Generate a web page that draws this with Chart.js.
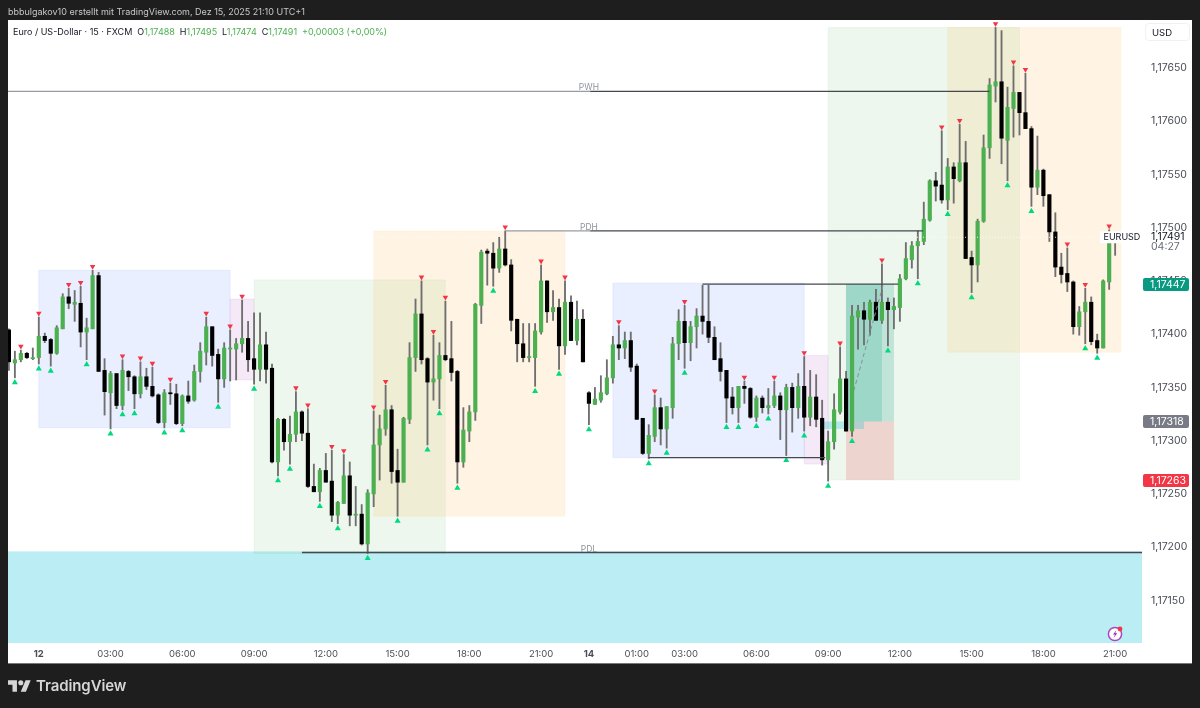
<!DOCTYPE html>
<html lang="de">
<head>
<meta charset="utf-8">
<title>EUR/USD 15</title>
<script src="https://cdn.jsdelivr.net/npm/chart.js@4"></script>
<style>
    html, body { margin: 0; padding: 0; width: 1200px; height: 708px; overflow: hidden; background: #1e1e1e; font-family: Inter, sans-serif; }
    #panel { position: absolute; left: 8px; top: 20px; width: 1184px; height: 643px; background: #fff; box-shadow: 0 1px 0 #777; }
    #chart { position: absolute; left: 0; top: 0; }
    #author { position: absolute; left: 8px; top: 5px; font-size: 9px; line-height: 14px; color: #c8c8c8; white-space: nowrap; }
    #legend { position: absolute; left: 13px; top: 25px; font-size: 9px; line-height: 14px; color: #131722; white-space: nowrap; }
    #legend b { font-weight: 400; color: #4caf50; }
    #legend span { margin-left: 5px; }
    #unit { position: absolute; left: 1145px; top: 23px; width: 45px; height: 18px; box-sizing: border-box; border: 1px solid #eef0f3; border-radius: 4px; font-size: 9.5px; line-height: 17px; color: #131722; padding-left: 6px; }
    #flash { position: absolute; left: 1106px; top: 625px; }
    #logo { position: absolute; left: 8px; top: 680px; }
    #brand { position: absolute; left: 36px; top: 676px; font-size: 15px; line-height: 20px; font-weight: 600; color: #d6d6d6; letter-spacing: -0.1px; }
</style>
</head>
<body>
<div id="panel"></div>
<canvas id="chart" width="1200" height="708"></canvas>
<div id="author">bbbulgakov10 erstellt mit TradingView.com, Dez 15, 2025 21:10 UTC+1</div>
<div id="legend">Euro / US-Dollar · 15 · FXCM<span>O<b>1,17488</b></span><span>H<b>1,17495</b></span><span>L<b>1,17474</b></span><span>C<b>1,17491</b></span><span><b>+0,00003 (+0,00%)</b></span></div>
<div id="unit">USD</div>
<svg id="flash" width="20" height="18" viewBox="0 0 20 18">
    <circle cx="9" cy="9" r="6.6" fill="#fff" stroke="#ab47bc" stroke-width="1.5"/>
    <path d="M10.5 5 L7 9.6 H9 L7.6 13 L11.2 8.3 H9.2 Z" fill="#9c27b0"/>
    <circle cx="14" cy="4" r="2.4" fill="#f23645"/>
</svg>
<svg id="logo" width="23" height="12" viewBox="0 4 36 18"><path fill="#d6d6d6" d="M14 22H7V11H0V4h14v18zM28 22h-8l7.5-18h8L28 22z"/><circle fill="#d6d6d6" cx="20" cy="8" r="4"/></svg>
<div id="brand">TradingView</div>

<script>
// ===== CANDLES (bar 0 is the leftmost one, prices) =====
const opens = [
    1.17404,1.17373,1.17376,1.17382,1.17377,1.17378,1.17398,1.17395,1.17382,1.17405,
    1.17435,1.17428,1.17429,1.17402,1.17405,1.17455,1.17366,1.17345,1.17363,1.17333,
    1.17365,1.17360,1.17344,1.17360,1.17351,1.17343,1.17317,1.17345,1.17344,1.17316,
    1.17342,1.17338,1.17365,1.17383,1.17407,1.17381,1.17358,1.17386,1.17386,1.17391,
    1.17396,1.17377,1.17367,1.17390,1.17368,1.17280,1.17320,1.17299,1.17306,1.17327,
    1.17307,1.17257,1.17252,1.17272,1.17262,1.17230,1.17241,1.17267,1.17230,1.17231,
    1.17203,1.17250,1.17296,1.17311,1.17329,1.17272,1.17261,1.17320,1.17378,1.17419,
    1.17377,1.17355,1.17358,1.17380,1.17377,1.17365,1.17280,1.17309,1.17327,1.17427,
    1.17478,1.17476,1.17462,1.17480,1.17465,1.17414,1.17391,1.17378,1.17378,1.17402,
    1.17450,1.17421,1.17425,1.17389,1.17430,1.17394,1.17414,1.17345,1.17334,1.17338,
    1.17344,1.17359,1.17390,1.17387,1.17394,1.17370,1.17321,1.17288,1.17304,1.17331,
    1.17311,1.17331,1.17391,1.17412,1.17392,1.17407,1.17417,1.17412,1.17397,1.17377,
    1.17366,1.17341,1.17331,1.17351,1.17349,1.17322,1.17340,1.17331,1.17333,1.17342,
    1.17329,1.17350,1.17331,1.17351,1.17322,1.17341,1.17321,1.17282,1.17299,1.17327,
    1.17358,1.17309,1.17416,1.17422,1.17414,1.17430,1.17413,1.17430,1.17423,1.17425,
    1.17452,1.17470,1.17483,1.17487,1.17507,1.17544,1.17540,1.17526,1.17557,1.17544,
    1.17561,1.17472,1.17465,1.17506,1.17575,1.17633,1.17637,1.17582,1.17612,1.17627,
    1.17608,1.17593,1.17538,1.17554,1.17531,1.17496,1.17463,1.17457,1.17449,1.17407,
    1.17421,1.17430,1.17394,1.17387,1.17449,1.17488
];
const closes = [
    1.17374,1.17376,1.17382,1.17378,1.17378,1.17398,1.17394,1.17382,1.17406,1.17435,
    1.17429,1.17430,1.17402,1.17406,1.17455,1.17365,1.17346,1.17363,1.17333,1.17366,
    1.17360,1.17344,1.17360,1.17351,1.17342,1.17317,1.17345,1.17344,1.17316,1.17342,
    1.17337,1.17365,1.17384,1.17407,1.17380,1.17358,1.17387,1.17387,1.17391,1.17396,
    1.17376,1.17367,1.17390,1.17367,1.17280,1.17320,1.17299,1.17306,1.17327,1.17307,
    1.17257,1.17252,1.17272,1.17261,1.17230,1.17242,1.17267,1.17230,1.17231,1.17203,
    1.17251,1.17296,1.17311,1.17329,1.17271,1.17261,1.17321,1.17378,1.17419,1.17376,
    1.17355,1.17358,1.17380,1.17376,1.17364,1.17280,1.17310,1.17327,1.17428,1.17477,
    1.17476,1.17462,1.17480,1.17465,1.17413,1.17391,1.17378,1.17379,1.17403,1.17450,
    1.17421,1.17425,1.17389,1.17430,1.17394,1.17414,1.17374,1.17335,1.17339,1.17345,
    1.17359,1.17390,1.17387,1.17394,1.17369,1.17320,1.17288,1.17305,1.17331,1.17311,
    1.17332,1.17391,1.17412,1.17392,1.17407,1.17417,1.17412,1.17397,1.17376,1.17365,
    1.17340,1.17331,1.17351,1.17349,1.17322,1.17340,1.17331,1.17333,1.17342,1.17329,
    1.17350,1.17331,1.17351,1.17322,1.17341,1.17320,1.17282,1.17299,1.17329,1.17358,
    1.17309,1.17417,1.17422,1.17414,1.17430,1.17413,1.17430,1.17423,1.17426,1.17452,
    1.17471,1.17483,1.17487,1.17508,1.17544,1.17539,1.17526,1.17557,1.17546,1.17561,
    1.17471,1.17465,1.17506,1.17575,1.17634,1.17637,1.17584,1.17613,1.17627,1.17608,
    1.17593,1.17538,1.17554,1.17530,1.17496,1.17463,1.17456,1.17449,1.17407,1.17421,
    1.17430,1.17393,1.17387,1.17450,1.17488,1.17491
];
const highs = [
    1.17405,1.17384,1.17385,1.17383,1.17387,1.17416,1.17401,1.17396,1.17408,1.17438,
    1.17443,1.17441,1.17445,1.17415,1.17460,1.17458,1.17377,1.17365,1.17363,1.17376,
    1.17366,1.17361,1.17374,1.17368,1.17369,1.17344,1.17348,1.17354,1.17353,1.17343,
    1.17356,1.17371,1.17392,1.17416,1.17407,1.17386,1.17392,1.17404,1.17396,1.17432,
    1.17412,1.17420,1.17420,1.17402,1.17372,1.17321,1.17321,1.17323,1.17346,1.17328,
    1.17330,1.17278,1.17274,1.17288,1.17291,1.17243,1.17287,1.17280,1.17257,1.17240,
    1.17254,1.17328,1.17324,1.17352,1.17333,1.17292,1.17322,1.17392,1.17433,1.17450,
    1.17378,1.17399,1.17392,1.17431,1.17412,1.17366,1.17331,1.17333,1.17429,1.17479,
    1.17480,1.17486,1.17491,1.17497,1.17470,1.17414,1.17410,1.17410,1.17410,1.17465,
    1.17450,1.17441,1.17433,1.17450,1.17436,1.17431,1.17423,1.17346,1.17350,1.17361,
    1.17376,1.17398,1.17408,1.17402,1.17402,1.17372,1.17321,1.17315,1.17343,1.17340,
    1.17332,1.17397,1.17423,1.17427,1.17412,1.17424,1.17446,1.17446,1.17407,1.17392,
    1.17366,1.17350,1.17351,1.17356,1.17350,1.17342,1.17342,1.17349,1.17356,1.17345,
    1.17353,1.17354,1.17363,1.17379,1.17366,1.17362,1.17338,1.17309,1.17344,1.17388,
    1.17365,1.17427,1.17427,1.17430,1.17432,1.17442,1.17466,1.17434,1.17434,1.17456,
    1.17486,1.17487,1.17497,1.17524,1.17545,1.17552,1.17591,1.17565,1.17561,1.17597,
    1.17581,1.17478,1.17508,1.17587,1.17640,1.17688,1.17685,1.17632,1.17652,1.17627,
    1.17645,1.17595,1.17586,1.17555,1.17531,1.17514,1.17476,1.17481,1.17450,1.17426,
    1.17443,1.17435,1.17400,1.17451,1.17498,1.17495
];
const lows = [
    1.17366,1.17359,1.17374,1.17377,1.17376,1.17372,1.17392,1.17370,1.17381,1.17405,
    1.17424,1.17412,1.17388,1.17376,1.17405,1.17365,1.17324,1.17311,1.17330,1.17329,
    1.17347,1.17330,1.17340,1.17348,1.17341,1.17316,1.17312,1.17334,1.17315,1.17314,
    1.17335,1.17337,1.17355,1.17371,1.17370,1.17336,1.17350,1.17356,1.17357,1.17383,
    1.17365,1.17353,1.17356,1.17354,1.17279,1.17267,1.17291,1.17278,1.17299,1.17300,
    1.17256,1.17252,1.17243,1.17261,1.17224,1.17222,1.17241,1.17220,1.17220,1.17202,
    1.17194,1.17238,1.17263,1.17305,1.17260,1.17229,1.17261,1.17316,1.17365,1.17372,
    1.17296,1.17338,1.17330,1.17375,1.17356,1.17260,1.17275,1.17299,1.17319,1.17410,
    1.17446,1.17445,1.17458,1.17464,1.17403,1.17374,1.17374,1.17374,1.17351,1.17400,
    1.17411,1.17413,1.17367,1.17381,1.17394,1.17390,1.17374,1.17315,1.17334,1.17336,
    1.17343,1.17354,1.17376,1.17377,1.17365,1.17320,1.17287,1.17283,1.17299,1.17296,
    1.17293,1.17321,1.17376,1.17368,1.17375,1.17387,1.17400,1.17392,1.17376,1.17356,
    1.17317,1.17325,1.17317,1.17335,1.17321,1.17318,1.17326,1.17325,1.17331,1.17301,
    1.17286,1.17308,1.17321,1.17309,1.17314,1.17313,1.17277,1.17262,1.17292,1.17325,
    1.17309,1.17304,1.17386,1.17390,1.17399,1.17413,1.17410,1.17389,1.17405,1.17412,
    1.17451,1.17462,1.17452,1.17484,1.17506,1.17525,1.17523,1.17517,1.17523,1.17543,
    1.17471,1.17439,1.17449,1.17505,1.17565,1.17618,1.17560,1.17544,1.17585,1.17587,
    1.17593,1.17520,1.17531,1.17520,1.17487,1.17454,1.17448,1.17440,1.17400,1.17399,
    1.17391,1.17390,1.17382,1.17387,1.17442,1.17474
];

// bars that carry a swing marker
const swingHighBars = [2,5,10,12,14,19,22,24,27,33,37,39,48,50,54,56,61,63,69,71,73,83,89,93,102,108,113,123,128,133,139,146,156,159,165,168,170,177,180,184];
const swingLowBars = [1,5,7,13,17,19,21,26,29,35,41,45,47,52,55,60,65,70,72,75,81,88,92,97,107,110,113,120,122,125,127,130,133,137,141,147,152,157,161,167,171,180,182];

// ===== AXES =====
const priceTicks = [1.1765, 1.176, 1.1755, 1.175, 1.1745, 1.174, 1.1735, 1.173, 1.1725, 1.172, 1.1715];
const timeTickBars = [5, 17, 29, 41, 53, 65, 77, 89, 97, 105, 113, 125, 137, 149, 161, 173, 185];
const timeTickLabels = ['12', '03:00', '06:00', '09:00', '12:00', '15:00', '18:00', '21:00', '14', '01:00', '03:00', '06:00', '09:00', '12:00', '15:00', '18:00', '21:00'];
const boldTimeLabels = ['12', '14'];
const firstBar = -0.15, lastBar = 189.49;
const priceMin = 1.1711, priceMax = 1.17695;

// ===== ZONES: from bar, to bar, top price, bottom price =====
const blueZones = [[5, 37, 1.17460, 1.17312], [101, 133, 1.17448, 1.17284]];
const pinkZones = [[37, 41, 1.17433, 1.17357], [133, 137, 1.17380, 1.17278]];
const greenZones = [[41, 73, 1.17451, 1.17194], [137, 169, 1.17688, 1.17263]];
const orangeZones = [[61, 93, 1.17497, 1.17229], [157, 186, 1.17688, 1.17383]];
const cyanZones = [[firstBar, lastBar, 1.17196, priceMin]];
const stripZones = [[136.3, 143, 1.17318, 1.17311]];
const profitZones = [[140, 148, 1.17447, 1.17318], [140, 146, 1.17447, 1.17318]];
const lossZones = [[140, 148, 1.17318, 1.17263]];

// ===== LEVEL LINES: from bar, to bar, price =====
const paleLevels = [[firstBar, 97.2, 1.17628], [83, 97.2, 1.17497]];
const darkLevels = [[97.2, 164, 1.17628], [97.2, 152.9, 1.17497], [116, 148.7, 1.17447], [107, 136.5, 1.17284], [49, lastBar, 1.17195]];
const lastPriceLevel = [firstBar, lastBar, 1.17491];
const tradePath = [[141.3, 1.17347], [146.2, 1.17446]];
const levelNames = ['PWH', 'PDH', 'PDL'];
const levelNamePrices = [1.17628, 1.17497, 1.17195];
const levelNameBar = 97;

// ===== PRICE TAGS =====
const tagPrices = [1.17447, 1.17318, 1.17263];
const tagColors = ['#089981', '#787b86', '#f23645'];
const lastClose = 1.17491;
const countdown = '04:27';
const symbolName = 'EURUSD';

function priceText(v) {
    return v.toFixed(5).replace('.', ',');
}

function levelDataset(level, color, width, order, dash) {
    return {
        type: 'line',
        data: [{ x: level[0], y: level[2] }, { x: level[1], y: level[2] }],
        borderColor: color,
        borderWidth: width,
        borderDash: dash || [],
        pointRadius: 0,
        order: order
    };
}

// zones go under the candles, tags and names over everything
const overlayPlugin = {
    id: 'overlay',
    beforeDatasetsDraw(chart) {
        const { ctx, scales: { x, y } } = chart;
        const fillZones = (zones, fill, stroke) => {
            zones.forEach(z => {
                const left = x.getPixelForValue(z[0]), right = x.getPixelForValue(z[1]);
                const top = y.getPixelForValue(z[2]), bottom = y.getPixelForValue(z[3]);
                ctx.fillStyle = fill;
                ctx.fillRect(left, top, right - left, bottom - top);
                if (stroke) {
                    ctx.strokeStyle = stroke;
                    ctx.lineWidth = 1;
                    ctx.strokeRect(left, top, right - left, bottom - top);
                }
            });
        };
        ctx.save();
        fillZones(cyanZones, '#bbedf4');
        fillZones(blueZones, 'rgba(41, 98, 255, 0.1)', 'rgba(41, 98, 255, 0.08)');
        fillZones(pinkZones, 'rgba(156, 39, 176, 0.1)', 'rgba(156, 39, 176, 0.08)');
        fillZones(greenZones, 'rgba(76, 175, 80, 0.1)', 'rgba(76, 175, 80, 0.06)');
        fillZones(orangeZones, 'rgba(255, 152, 0, 0.11)', 'rgba(255, 152, 0, 0.05)');
        fillZones(profitZones, 'rgba(8, 153, 129, 0.2)');
        fillZones(lossZones, 'rgba(242, 54, 69, 0.18)');
        fillZones(stripZones, 'rgba(0, 188, 212, 0.25)');
        ctx.restore();
    },
    afterDraw(chart) {
        const { ctx, scales: { x, y } } = chart;
        ctx.save();
        ctx.textBaseline = 'middle';

        // PWH / PDH / PDL
        ctx.font = '8.5px Inter, sans-serif';
        ctx.textAlign = 'center';
        ctx.fillStyle = '#8f929b';
        levelNames.forEach((name, i) => {
            ctx.fillText(name, x.getPixelForValue(levelNameBar), y.getPixelForValue(levelNamePrices[i]) - 3.5);
        });

        // price tags on the axis
        ctx.font = '10.5px Inter, sans-serif';
        ctx.textAlign = 'left';
        tagPrices.forEach((p, i) => {
            const py = Math.round(y.getPixelForValue(p));
            ctx.fillStyle = tagColors[i];
            ctx.beginPath();
            ctx.roundRect(1143, py - 6, 46, 13, 2);
            ctx.fill();
            ctx.fillStyle = '#fff';
            ctx.fillText(priceText(p), 1150, py + 0.5);
        });

        // last price with countdown
        const lastY = y.getPixelForValue(lastClose);
        ctx.fillStyle = '#fff';
        ctx.fillRect(1143, lastY - 5, 46, 17);
        ctx.fillStyle = '#131722';
        ctx.fillText(priceText(lastClose), 1151, lastY);
        ctx.fillStyle = '#6a6d78';
        ctx.fillText(countdown, 1151, lastY + 10);

        // symbol label
        ctx.fillStyle = '#fff';
        ctx.beginPath();
        ctx.roundRect(1100, lastY - 6, 40, 12, 2);
        ctx.fill();
        ctx.font = '9px Inter, sans-serif';
        ctx.fillStyle = '#131722';
        ctx.fillText(symbolName, 1103.5, lastY);
        ctx.restore();
    }
};

const wickData = highs.map((h, i) => ({ x: i, y: [lows[i], h] }));
const bodyData = opens.map((o, i) => ({ x: i, y: [o, closes[i]] }));
const bodyColors = opens.map((o, i) => closes[i] >= o ? '#4caf50' : '#000000');

const datasets = [
    { data: wickData, backgroundColor: '#6f6f6f', barThickness: 1.2, grouped: false, order: 6 },
    { data: bodyData, backgroundColor: bodyColors, barThickness: 3.5, minBarLength: 1, grouped: false, order: 5 },
    {
        type: 'line',
        data: swingHighBars.map(i => ({ x: i, y: highs[i] + 0.000035 })),
        showLine: false,
        pointStyle: 'triangle',
        rotation: 180,
        pointRadius: 3.2,
        pointBorderWidth: 0,
        pointBackgroundColor: '#f23645',
        order: 4
    },
    {
        type: 'line',
        data: swingLowBars.map(i => ({ x: i, y: lows[i] - 0.000045 })),
        showLine: false,
        pointStyle: 'triangle',
        pointRadius: 3.5,
        pointBorderWidth: 0,
        pointBackgroundColor: '#00d97e',
        order: 4
    },
    {
        type: 'line',
        data: tradePath.map(p => ({ x: p[0], y: p[1] })),
        borderColor: '#8a8d96',
        borderWidth: 1,
        borderDash: [4, 3],
        pointRadius: 0,
        order: 3
    },
    levelDataset(lastPriceLevel, 'rgba(255, 255, 255, 0.85)', 1, 3, [1, 2])
];
paleLevels.forEach(l => datasets.push(levelDataset(l, '#9a9ca3', 1.3, 2)));
darkLevels.forEach(l => datasets.push(levelDataset(l, '#45484f', 1.3, 2)));

new Chart(document.getElementById('chart'), {
    type: 'bar',
    data: { datasets: datasets },
    options: {
        responsive: false,
        animation: false,
        layout: { padding: { left: 8, top: 20, right: 8, bottom: 45 } },
        plugins: { legend: { display: false }, tooltip: { enabled: false } },
        scales: {
            x: {
                type: 'linear',
                offset: false,
                min: firstBar,
                max: lastBar,
                grid: { display: false, drawTicks: false },
                border: { display: false },
                afterFit: scale => { scale.height = 20; },
                afterBuildTicks: scale => { scale.ticks = timeTickBars.map(v => ({ value: v })); },
                ticks: {
                    autoSkip: false,
                    maxRotation: 0,
                    padding: 5,
                    color: '#4a4d55',
                    font: ctx => ({
                        family: 'Inter, sans-serif',
                        size: 9.5,
                        weight: boldTimeLabels.includes(ctx.tick && ctx.tick.label) ? '700' : '400'
                    }),
                    callback: (value, index) => timeTickLabels[index]
                }
            },
            y: {
                position: 'right',
                min: priceMin,
                max: priceMax,
                grid: { display: false, drawTicks: false },
                border: { display: false },
                afterFit: scale => { scale.width = 50; },
                afterBuildTicks: scale => { scale.ticks = priceTicks.map(v => ({ value: v })); },
                ticks: {
                    padding: 9,
                    color: '#4a4d55',
                    font: { family: 'Inter, sans-serif', size: 10.5 },
                    callback: value => priceText(value)
                }
            }
        }
    },
    plugins: [overlayPlugin]
});
</script>
</body>
</html>
